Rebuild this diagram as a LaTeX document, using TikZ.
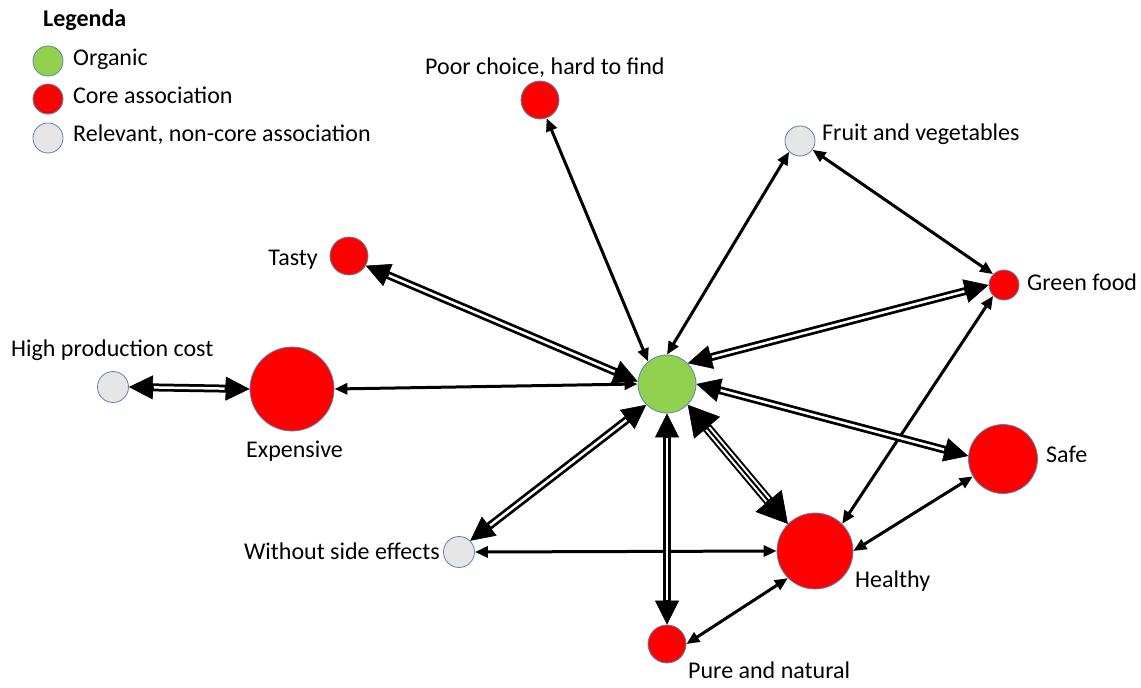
\documentclass[tikz,border=0pt]{standalone}
\usepackage{fontspec}
\setmainfont{Carlito}
\usetikzlibrary{arrows.meta}
\definecolor{orgg}{HTML}{92D050}
\definecolor{corer}{HTML}{FF0000}
\definecolor{ncg}{HTML}{E7E6E6}
\definecolor{bord}{HTML}{5B84B1}
\tikzset{
  bubble/.style={circle, inner sep=0pt, draw=bord, line width=0.8pt},
  org/.style={bubble, fill=orgg},
  core/.style={bubble, fill=corer},
  nc/.style={bubble, fill=ncg},
  lbl/.style={inner sep=0pt, font=\fontsize{24}{28}\selectfont},
  sline/.style={line width=3pt, {Triangle[length=13pt 0,width=11pt 0]}-{Triangle[length=13pt 0,width=11pt 0]}},
  dtip/.style={line width=0.6pt, {Triangle[length=24pt 0,width=24pt 0]}-{Triangle[length=24pt 0,width=24pt 0]}},
  ttip/.style={line width=0.6pt, {Triangle[length=30pt 0,width=34pt 0]}-{Triangle[length=30pt 0,width=34pt 0]}}
}
\newcommand{\linkone}[2]{\draw[sline] (#1) -- (#2);}
\newcommand{\linktwo}[2]{%
  \draw[dtip] (#1) -- (#2);
  \draw[line width=8pt, shorten <=22pt, shorten >=22pt] (#1) -- (#2);
  \draw[white, line width=2.5pt, shorten <=25pt, shorten >=25pt] (#1) -- (#2);}
\newcommand{\linkthree}[2]{%
  \draw[ttip] (#1) -- (#2);
  \draw[line width=10pt, shorten <=27pt, shorten >=27pt] (#1) -- (#2);
  \draw[white, line width=6pt, shorten <=31pt, shorten >=31pt] (#1) -- (#2);
  \draw[line width=2pt, shorten <=30pt, shorten >=30pt] (#1) -- (#2);}
\begin{document}
\begin{tikzpicture}[x=1pt,y=-1pt]
\useasboundingbox[fill=white] (0,0) rectangle (1141,688);
% legend
\node[lbl, anchor=base west, font=\fontsize{24}{28}\selectfont\bfseries] (legtitle) at (43,27) {Legenda};
\node[org, minimum size=30pt] (lg1) at (48,61) {};
\node[core, minimum size=30pt] (lg2) at (48,99) {};
\node[nc, minimum size=30pt] (lg3) at (48,138) {};
\node[lbl, anchor=base west] (lgt1) at (73,65) {Organic};
\node[lbl, anchor=base west] (lgt2) at (73,103) {Core association};
\node[lbl, anchor=base west] (lgt3) at (73,141) {Relevant, non-core association};
% nodes
\node[org, minimum size=58pt] (organic) at (667,384) {};
\node[core, minimum size=38pt] (poor) at (540,100) {};
\node[nc, minimum size=30pt] (fruit) at (800,141) {};
\node[core, minimum size=38pt] (tasty) at (349,256) {};
\node[core, minimum size=30pt] (green) at (1004,285) {};
\node[nc, minimum size=31pt] (high) at (113,387) {};
\node[core, minimum size=84pt] (expensive) at (292,389) {};
\node[core, minimum size=69pt] (safe) at (1003,459) {};
\node[nc, minimum size=31pt] (without) at (459,552) {};
\node[core, minimum size=76pt] (healthy) at (815,551) {};
\node[core, minimum size=38pt] (pure) at (667,644) {};
% labels
\node[lbl, anchor=base west] (lpoor) at (425,74) {Poor choice, hard to find};
\node[lbl, anchor=base west] (lfruit) at (822,140) {Fruit and vegetables};
\node[lbl, anchor=base east] (ltasty) at (318,265) {Tasty};
\node[lbl, anchor=base west] (lgreen) at (1027,290) {Green food};
\node[lbl, anchor=base west] (lhigh) at (11,356) {High production cost};
\node[lbl, anchor=base west] (lexp) at (246,457) {Expensive};
\node[lbl, anchor=base west] (lsafe) at (1046,462) {Safe};
\node[lbl, anchor=base east] (lwithout) at (440,559) {Without side effects};
\node[lbl, anchor=base west] (lhealthy) at (855,587) {Healthy};
\node[lbl, anchor=base west] (lpure) at (688,678) {Pure and natural};
% single connectors
\linkone{organic.130}{poor.-70}
\linkone{organic.north}{fruit.-135}
\linkone{organic.west}{expensive.east}
\linkone{fruit.-35}{green.135}
\linkone{green.-135}{healthy.45}
\linkone{healthy.east}{safe.-150}
\linkone{healthy.west}{without.east}
\linkone{healthy.-135}{pure.east}
% double connectors
\linktwo{organic.175}{tasty.-30}
\linktwo{high.east}{expensive.west}
\linktwo{organic.45}{green.west}
\linktwo{organic.east}{safe.175}
\linktwo{organic.south}{pure.north}
\linktwo{organic.-135}{without.45}
% triple connector
\linkthree{organic.-45}{healthy.135}
\end{tikzpicture}
\end{document}
